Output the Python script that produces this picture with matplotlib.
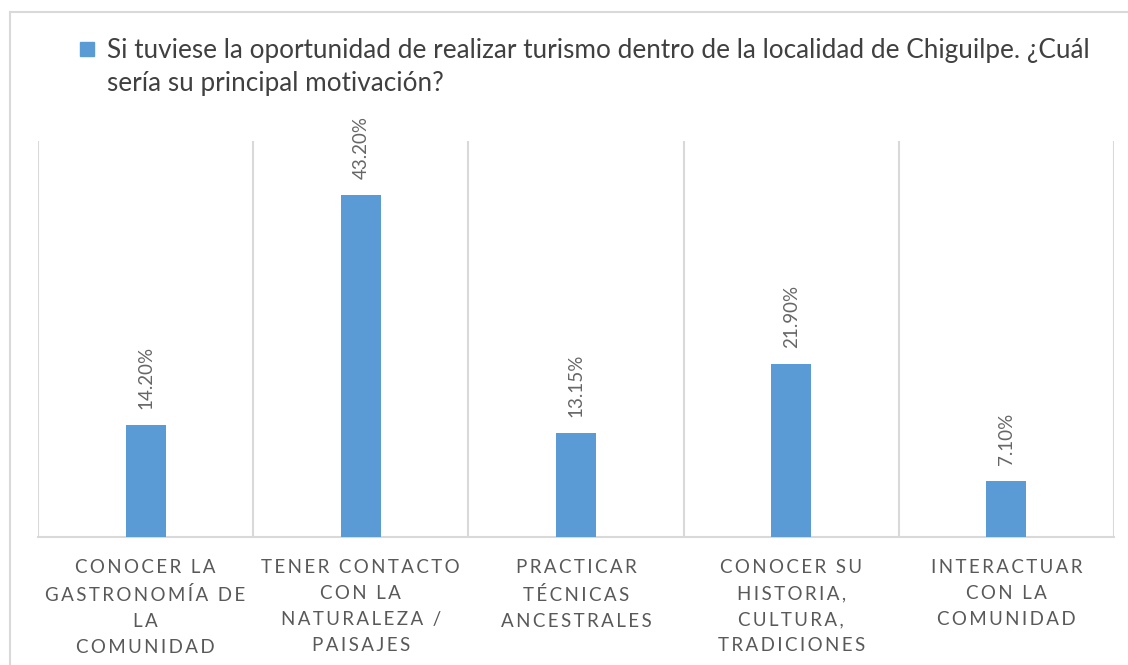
import numpy as np
import matplotlib.pyplot as plt
from matplotlib.lines import Line2D
from matplotlib.patches import Rectangle

#-----
# data
categories = ['CONOCER LA\nGASTRONOMÍA DE\nLA\nCOMUNIDAD',
              'TENER CONTACTO\nCON LA\nNATURALEZA /\nPAISAJES',
              'PRACTICAR\nTÉCNICAS\nANCESTRALES',
              'CONOCER SU\nHISTORIA,\nCULTURA,\nTRADICIONES',
              'INTERACTUAR\nCON LA\nCOMUNIDAD']
values = [14.20, 43.20, 13.15, 21.90, 7.10]
value_labels = ['14.20%', '43.20%', '13.15%', '21.90%', '7.10%']
series_name = ('Si tuviese la oportunidad de realizar turismo dentro de la localidad de Chiguilpe. ¿Cuál\n'
               'sería su principal motivación?')

#-----
W, H = 1128, 665
bar_color = '#5B9BD5'
grid_color = '#D9D9D9'
fonts = ['Lato', 'DejaVu Sans']


def spaced(label):
    # emulate the wide letter spacing of the original with thin spaces
    return '\n'.join('\u2009'.join(line) for line in label.split('\n'))


fig = plt.figure(figsize=(W / 100, H / 100), dpi=100)
ax = fig.add_axes([38 / W, (H - 537) / H, (1114 - 38) / W, (537 - 141) / H])

x = np.arange(len(values))
ax.bar(x, values, width=0.186, color=bar_color, zorder=3)
ax.set_xlim(-0.5, len(values) - 0.5)
ax.set_ylim(0, 50)

# category separators
for b in np.arange(-0.5, len(values), 1.0):
    ax.axvline(b, color=grid_color, lw=1.5, zorder=1)

for s in ['top', 'right', 'left']:
    ax.spines[s].set_visible(False)
ax.spines['bottom'].set_color(grid_color)
ax.spines['bottom'].set_linewidth(1.5)
ax.set_yticks([])
ax.set_xticks([])

# value labels
for xi, v, lab in zip(x, values, value_labels):
    ax.annotate(lab, xy=(xi, v), xytext=(0, 11.5), textcoords='offset points',
                rotation=90, ha='center', va='bottom', fontsize=13.5,
                color='#666666', family=fonts)

# category labels
for xi, cat in zip(x, categories):
    ax.annotate(spaced(cat), xy=(xi, 0), xytext=(0, -16), textcoords='offset points',
                ha='center', va='top', fontsize=13.5, linespacing=1.64,
                color='#595959', family=fonts)

# legend (series name)
fig.add_artist(Rectangle((80 / W, 1 - 56 / H), 14 / W, 14 / H,
                         transform=fig.transFigure, color=bar_color))
fig.text(107 / W, 1 - 38 / H, series_name, ha='left', va='top', fontsize=18.8,
         linespacing=1.4, color='#404040', family=fonts)

# outer chart border (left and top only visible)
fig.add_artist(Line2D([9.5 / W, 9.5 / W], [0, 1 - 12 / H], transform=fig.transFigure,
                      color=grid_color, lw=1.5))
fig.add_artist(Line2D([9.5 / W, 1], [1 - 12 / H, 1 - 12 / H], transform=fig.transFigure,
                      color=grid_color, lw=1.5))

plt.savefig('out.png', dpi=100)
